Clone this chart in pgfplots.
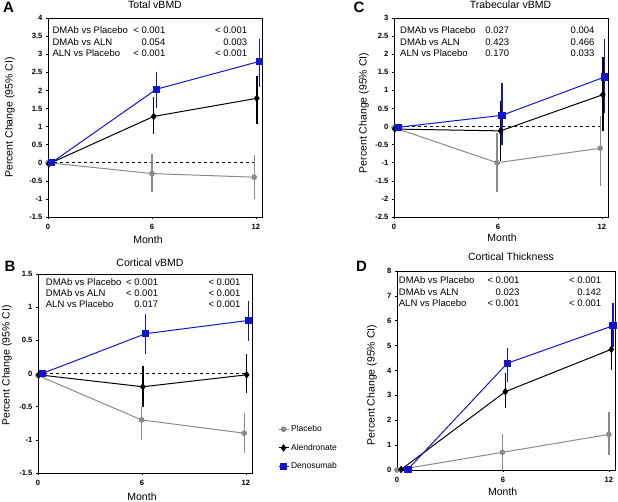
\documentclass[border=0pt]{standalone}
\usepackage{pgfplots}
\pgfplotsset{compat=1.18}
\usepackage{fontspec}
\setmainfont{Liberation Sans}

\definecolor{mgray}{RGB}{138,138,138}
\definecolor{mblue}{RGB}{20,20,205}

\newcommand{\pv}{\fontsize{9.5}{11}\selectfont}
\newcommand{\lab}{\fontsize{10.5}{12}\selectfont}

\pgfplotsset{
  panel/.style={
    scale only axis, width=214pt, height=199pt,
    xmin=0, xmax=12.35, xtick={0,6,12},
    axis line style={line width=0.9pt},
    tick style={black, line width=0.6pt}, tick align=outside,
    major tick length=2pt, tick pos=left,
    ticklabel style={font=\bfseries\fontsize{7.6}{8}\selectfont},
    /pgf/number format/assume math mode=true,
    /pgf/number format/fixed,
    xticklabel style={yshift=-2pt},
  },
  pla/.style={mgray, line width=1pt, mark=*, mark size=2.3pt,
    mark options={fill=mgray, draw=mgray, solid}},
  aln/.style={black, line width=1pt, mark=diamond*, mark size=3pt,
    mark options={fill=black, draw=black, solid}},
  dmab/.style={mblue, line width=1pt, mark=square*, mark size=3.2pt,
    mark options={fill=mblue, draw=mblue, solid}},
  eb/.style={error bars/.cd, y dir=both, y explicit, error mark=none,
    error bar style={line width=1.4pt}},
  zero/.style={black, dashed, line width=0.6pt, forget plot},
}

\begin{document}
\begin{tikzpicture}
\useasboundingbox (0,0) rectangle (618pt,502pt);

% ---- A: Total vBMD
\begin{axis}[panel, at={(48pt,285pt)}, anchor=south west,
  ymin=-1.5, ymax=4, ytick={-1.5,-1,...,4}]
\addplot[zero] coordinates {(0,0) (12,0)};
\addplot[pla, eb] table[x=x, y=y, y error plus=ep, y error minus=em] {
x y ep em
0 0 0 0
6.0 -0.30 0.53 0.52
11.9 -0.40 0.62 0.61
};
\addplot[aln, eb] table[x=x, y=y, y error plus=ep, y error minus=em] {
x y ep em
0.05 -0.03 0 0
6.1 1.28 0.53 0.49
12.05 1.78 0.63 0.70
};
\addplot[dmab, eb] table[x=x, y=y, y error plus=ep, y error minus=em] {
x y ep em
0.2 0.0 0 0
6.25 2.03 0.49 0.53
12.2 2.80 0.62 0.70
};
\end{axis}

% ---- C: Trabecular vBMD
\begin{axis}[panel, at={(394pt,285pt)}, anchor=south west,
  ymin=-2.5, ymax=3, ytick={-2.5,-2,...,3}]
\addplot[zero] coordinates {(0,0) (12,0)};
\addplot[pla, eb] table[x=x, y=y, y error plus=ep, y error minus=em] {
x y ep em
0 -0.03 0 0
5.95 -1.00 0.82 0.82
11.9 -0.60 0.90 1.04
};
\addplot[aln, eb] table[x=x, y=y, y error plus=ep, y error minus=em] {
x y ep em
0.05 -0.07 0 0
6.15 -0.12 0.82 0.82
12.05 0.88 1.03 1.00
};
\addplot[dmab, eb] table[x=x, y=y, y error plus=ep, y error minus=em] {
x y ep em
0.25 -0.02 0 0
6.23 0.31 0.90 0.83
12.16 1.37 1.05 1.00
};
\end{axis}

% ---- B: Cortical vBMD
\begin{axis}[panel, at={(38pt,29pt)}, anchor=south west,
  ymin=-1.5, ymax=1.5, ytick={-1.5,-1,...,1.5},
  legend style={at={(rel axis cs:1.121,0.25)}, anchor=north west,
    draw=none, fill=none, inner sep=0pt,
    font=\fontsize{8.5}{9}\selectfont, row sep=7pt},
  legend cell align=left,
  legend image code/.code={
    \draw[#1, mark=none] (0pt,0pt) -- (10pt,0pt);
    \draw[#1, only marks] plot coordinates {(5pt,0pt)};}]
\addplot[zero] coordinates {(0,0) (12,0)};
\addplot[pla, eb] table[x=x, y=y, y error plus=ep, y error minus=em] {
x y ep em
0 -0.03 0 0
5.98 -0.70 0.20 0.30
11.9 -0.90 0.30 0.30
};
\addlegendentry{Placebo}
\addplot[aln, eb] table[x=x, y=y, y error plus=ep, y error minus=em] {
x y ep em
0.05 -0.02 0 0
6.05 -0.20 0.31 0.30
12.04 -0.02 0.32 0.28
};
\addlegendentry{Alendronate}
\addplot[dmab, eb] table[x=x, y=y, y error plus=ep, y error minus=em] {
x y ep em
0.25 0.0 0 0
6.21 0.60 0.30 0.31
12.14 0.80 0.30 0.31
};
\addlegendentry{Denosumab}
\end{axis}

% ---- D: Cortical Thickness
\begin{axis}[panel, at={(397pt,32pt)}, anchor=south west, width=218pt,
  ymin=0, ymax=8, ytick={0,1,...,8}]
\addplot[pla, eb] table[x=x, y=y, y error plus=ep, y error minus=em] {
x y ep em
0 0 0 0
5.97 0.71 0.72 0.71
12.0 1.43 0.89 0.83
};
\addplot[aln, eb] table[x=x, y=y, y error plus=ep, y error minus=em] {
x y ep em
0.23 0.02 0 0
6.14 3.15 0.75 0.67
12.14 4.85 0.80 0.83
};
\addplot[dmab, eb] table[x=x, y=y, y error plus=ep, y error minus=em] {
x y ep em
0.62 0.03 0 0
6.25 4.29 0.61 0.74
12.24 5.80 0.90 0.85
};
\end{axis}

% panel letters
\node[font=\bfseries\fontsize{15}{16}\selectfont] at (8.5pt,494.5pt) {A};
\node[font=\bfseries\fontsize{15}{16}\selectfont] at (359pt,494.5pt) {C};
\node[font=\bfseries\fontsize{15}{16}\selectfont] at (10pt,236pt) {B};
\node[font=\bfseries\fontsize{15}{16}\selectfont] at (361.5pt,236pt) {D};

% titles
\node[font=\lab] at (155pt,497pt) {Total vBMD};
\node[font=\lab] at (510.5pt,497pt) {Trabecular vBMD};
\node[font=\lab] at (150pt,239.3pt) {Cortical vBMD};
\node[font=\lab] at (511pt,245.3pt) {Cortical Thickness};

% x labels
\node[font=\lab] at (148pt,262pt) {Month};
\node[font=\lab] at (502pt,264pt) {Month};
\node[font=\lab] at (142pt,5pt) {Month};
\node[font=\lab] at (502.7pt,10.3pt) {Month};

% y labels
\node[font=\lab, rotate=90] at (10pt,384.5pt) {Percent Change (95\% CI)};
\node[font=\lab, rotate=90] at (364pt,389pt) {Percent Change (95\% CI)};
\node[font=\lab, rotate=90] at (7pt,136.5pt) {Percent Change (95\% CI)};
\node[font=\lab, rotate=90] at (372pt,117pt) {Percent Change (95\% CI)};

% p-values
\begin{scope}[every node/.style={font=\pv, inner sep=0pt}]
% A
\node[anchor=base west] at (52.3pt,468.5pt) {DMAb vs Placebo};
\node[anchor=base west] at (52.3pt,456.8pt) {DMAb vs ALN};
\node[anchor=base west] at (52.3pt,445.8pt) {ALN vs Placebo};
\node[anchor=base east] at (165.5pt,468.5pt) {< 0.001};
\node[anchor=base east] at (165.5pt,456.8pt) {0.054};
\node[anchor=base east] at (165.5pt,445.8pt) {< 0.001};
\node[anchor=base east] at (247.3pt,468.5pt) {< 0.001};
\node[anchor=base east] at (247.3pt,456.8pt) {0.003};
\node[anchor=base east] at (247.3pt,445.8pt) {< 0.001};
% C
\node[anchor=base west] at (400pt,468.5pt) {DMAb vs Placebo};
\node[anchor=base west] at (400pt,456.8pt) {DMAb vs ALN};
\node[anchor=base west] at (400pt,445.8pt) {ALN vs Placebo};
\node[anchor=base east] at (509.3pt,468.5pt) {0.027};
\node[anchor=base east] at (509.3pt,456.8pt) {0.423};
\node[anchor=base east] at (509.3pt,445.8pt) {0.170};
\node[anchor=base east] at (594.7pt,468.5pt) {0.004};
\node[anchor=base east] at (594.7pt,456.8pt) {0.466};
\node[anchor=base east] at (594.7pt,445.8pt) {0.033};
% B
\node[anchor=base west] at (45.7pt,216.2pt) {DMAb vs Placebo};
\node[anchor=base west] at (45.7pt,205.2pt) {DMAb vs ALN};
\node[anchor=base west] at (45.7pt,194.2pt) {ALN vs Placebo};
\node[anchor=base east] at (158.3pt,216.2pt) {< 0.001};
\node[anchor=base east] at (158.3pt,205.2pt) {< 0.001};
\node[anchor=base east] at (158.3pt,194.2pt) {0.017};
\node[anchor=base east] at (240.7pt,216.2pt) {< 0.001};
\node[anchor=base east] at (240.7pt,205.2pt) {< 0.001};
\node[anchor=base east] at (240.7pt,194.2pt) {< 0.001};
% D
\node[anchor=base west] at (398.7pt,218.5pt) {DMAb vs Placebo};
\node[anchor=base west] at (398.7pt,206.8pt) {DMAb vs ALN};
\node[anchor=base west] at (398.7pt,195.8pt) {ALN vs Placebo};
\node[anchor=base east] at (519.7pt,218.5pt) {< 0.001};
\node[anchor=base east] at (519.7pt,206.8pt) {0.023};
\node[anchor=base east] at (519.7pt,195.8pt) {< 0.001};
\node[anchor=base east] at (601.3pt,218.5pt) {< 0.001};
\node[anchor=base east] at (601.3pt,206.8pt) {0.142};
\node[anchor=base east] at (601.3pt,195.8pt) {< 0.001};
\end{scope}
\end{tikzpicture}
\end{document}
